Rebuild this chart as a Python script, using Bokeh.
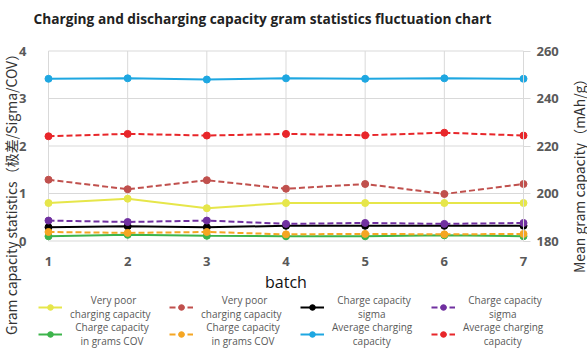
import math
from bokeh.plotting import figure
from bokeh.core.properties import value
from bokeh.models import Range1d, LinearAxis, FixedTicker, Legend, LegendItem
from bokeh.embed import file_html
from bokeh.resources import INLINE

batches = [1, 2, 3, 4, 5, 6, 7]
x_ticks = [1, 2, 3, 4, 5, 6, 7]
left_ticks = [0, 1, 2, 3, 4]
right_ticks = [180, 200, 220, 240, 260]

# left-axis series (range / sigma / COV)
very_poor_charge = [0.80, 0.89, 0.69, 0.80, 0.80, 0.80, 0.80]
very_poor_discharge = [1.29, 1.09, 1.28, 1.10, 1.20, 0.99, 1.20]
sigma_charge = [0.29, 0.31, 0.29, 0.32, 0.32, 0.32, 0.32]
sigma_discharge = [0.43, 0.40, 0.43, 0.36, 0.38, 0.36, 0.38]
cov_charge = [0.10, 0.13, 0.11, 0.10, 0.10, 0.12, 0.10]
cov_discharge = [0.19, 0.17, 0.19, 0.14, 0.15, 0.14, 0.15]
# right-axis series (mean gram capacity, mAh/g)
avg_charge = [248.3, 248.5, 248.0, 248.5, 248.3, 248.5, 248.3]
avg_discharge = [224.1, 225.1, 224.4, 225.1, 224.5, 225.6, 224.4]

title_text = "Charging and discharging capacity gram statistics fluctuation chart"
left_label = "Gram capacity statistics（极差/Sigma/COV）"
right_label = "Mean gram capacity（mAh/g）"
x_label = "batch"

NB = "\u00a0"
# legend labels (two lines, visually centred with non-breaking spaces)
labels = [
    NB * 8 + "Very poor\ncharging capacity",
    NB * 8 + "Very poor\ncharging capacity",
    NB * 2 + "Charge capacity\n" + NB * 10 + "sigma",
    NB * 2 + "Charge capacity\n" + NB * 10 + "sigma",
    NB * 2 + "Charge capacity\n" + NB * 4 + "in grams COV",
    NB * 2 + "Charge capacity\n" + NB * 4 + "in grams COV",
    "Average charging\n" + NB * 8 + "capacity",
    "Average charging\n" + NB * 8 + "capacity",
]

FONT = "Open Sans"
CJK = "Noto Sans CJK SC"
GRID = "#d9d9d9"
TICKC = "#595959"

# ---- layout (pixels): the whole canvas is the plot frame ----
W, H = 587, 352
PX_L, PX_R = 48.0, 523.0      # pixel x of first / last batch
PY_T, PY_B = 50.5, 240.5      # pixel y of top / bottom of value scale
x0, x1 = x_ticks[0], x_ticks[-1]
l0, l1 = left_ticks[0], left_ticks[-1]
r0, r1 = right_ticks[0], right_ticks[-1]
sx = (x1 - x0) / (PX_R - PX_L)
sl = (l1 - l0) / (PY_B - PY_T)
sr = (r1 - r0) / (PY_B - PY_T)
x_range = Range1d(x0 - PX_L * sx, x1 + (W - PX_R) * sx)
y_range = Range1d(l0 - (H - PY_B) * sl, l1 + PY_T * sl)
yr_right = Range1d(r0 - (H - PY_B) * sr, r1 + PY_T * sr)

p = figure(width=W, height=H, output_backend="svg", toolbar_location=None,
           title_location=None, x_range=x_range, y_range=y_range, min_border=0)
p.outline_line_color = None
p.background_fill_color = "white"
p.border_fill_color = "white"
p.xgrid.visible = False
p.ygrid.visible = False
p.extra_y_ranges = {"right": yr_right}

# gridlines limited to the value area
p.segment(x0=x_ticks, y0=[l0] * len(x_ticks), x1=x_ticks, y1=[l1] * len(x_ticks),
          line_color=GRID, line_width=1, level="underlay")
p.segment(x0=[x0] * len(left_ticks), y0=left_ticks, x1=[x1] * len(left_ticks), y1=left_ticks,
          line_color=GRID, line_width=1, level="underlay")

# axes drawn at fixed positions
p.xaxis.fixed_location = l0
p.xaxis.bounds = (x0, x1)
p.xaxis.ticker = FixedTicker(ticks=x_ticks)
p.xaxis.axis_line_color = None
p.xaxis.major_tick_line_color = None
p.xaxis.minor_tick_line_color = None
p.xaxis.major_label_text_font = FONT
p.xaxis.major_label_text_font_size = "13px"
p.xaxis.major_label_text_font_style = "bold"
p.xaxis.major_label_text_color = TICKC
p.xaxis.major_label_standoff = 10
p.xaxis.axis_label = x_label
p.xaxis.axis_label_text_font = FONT
p.xaxis.axis_label_text_font_size = "16px"
p.xaxis.axis_label_text_font_style = "normal"
p.xaxis.axis_label_text_color = "#111111"
p.xaxis.axis_label_standoff = 1

p.yaxis.fixed_location = x0
p.yaxis.bounds = (l0, l1)
p.yaxis.ticker = FixedTicker(ticks=left_ticks)
p.yaxis.axis_line_color = None
p.yaxis.major_tick_line_color = None
p.yaxis.minor_tick_line_color = None
p.yaxis.major_label_text_font = FONT
p.yaxis.major_label_text_font_size = "13px"
p.yaxis.major_label_text_font_style = "bold"
p.yaxis.major_label_text_color = TICKC
p.yaxis.major_label_standoff = 16

raxis = LinearAxis(y_range_name="right", ticker=FixedTicker(ticks=right_ticks))
raxis.fixed_location = x1
raxis.bounds = (r0, r1)
raxis.axis_line_color = GRID
raxis.major_tick_line_color = GRID
raxis.major_tick_out = 7
raxis.major_tick_in = 0
raxis.minor_tick_line_color = None
raxis.major_label_text_font = FONT
raxis.major_label_text_font_size = "13px"
raxis.major_label_text_font_style = "bold"
raxis.major_label_text_color = TICKC
raxis.major_label_standoff = 6
p.add_layout(raxis, "right")

# title and side titles as text anchored to the axes' end ticks
p.text(x=[x0], y=[l1], text=[title_text], x_offset=-15, y_offset=-33,
       text_align="left", text_baseline="middle", text_font=value(FONT),
       text_font_size="13.7px", text_font_style="bold", text_color="#222222")
p.text(x=[x0], y=[l0], text=[left_label], angle=math.pi / 2, x_offset=-38, y_offset=94,
       text_align="left", text_baseline="middle", text_font=value(CJK),
       text_font_size="14px", text_color="#333333")
p.text(x=[x1], y=[r0], text=[right_label], y_range_name="right", angle=math.pi / 2,
       x_offset=55, y_offset=32, text_align="left", text_baseline="middle",
       text_font=value(CJK), text_font_size="14px", text_color="#333333")

series = [
    (very_poor_charge, "#e6e64a", None, "default"),
    (very_poor_discharge, "#c0504d", "6 3", "default"),
    (sigma_charge, "#000000", None, "default"),
    (sigma_discharge, "#7030a0", "6 3", "default"),
    (cov_charge, "#3cb44b", None, "default"),
    (cov_discharge, "#f5a623", "6 3", "default"),
    (avg_charge, "#1ea7e1", None, "right"),
    (avg_discharge, "#e8262a", "6 3", "right"),
]

items = []
for (vals, color, dash, rng), lab in zip(series, labels):
    style = dict(line_color=color, line_width=2)
    if dash:
        style["line_dash"] = dash
    ln = p.line(batches, vals, y_range_name=rng, **style)
    sc = p.scatter(batches, vals, size=7, fill_color=color, line_color=color, y_range_name=rng)
    items.append(LegendItem(label=lab, renderers=[ln, sc]))

for row, loc in ((items[0:4], (38, 31)), (items[4:8], (38, 4))):
    lg = Legend(items=row, orientation="horizontal", location=loc,
                margin=0, padding=0, glyph_width=24, glyph_height=14,
                label_standoff=8, label_width=90, label_height=26, spacing=9,
                label_text_font=FONT, label_text_font_size="10px",
                label_text_color="#595959", label_text_line_height=1.3,
                border_line_color=None, background_fill_alpha=0)
    p.add_layout(lg, "center")

open("out.html", "w").write(file_html(p, INLINE))
